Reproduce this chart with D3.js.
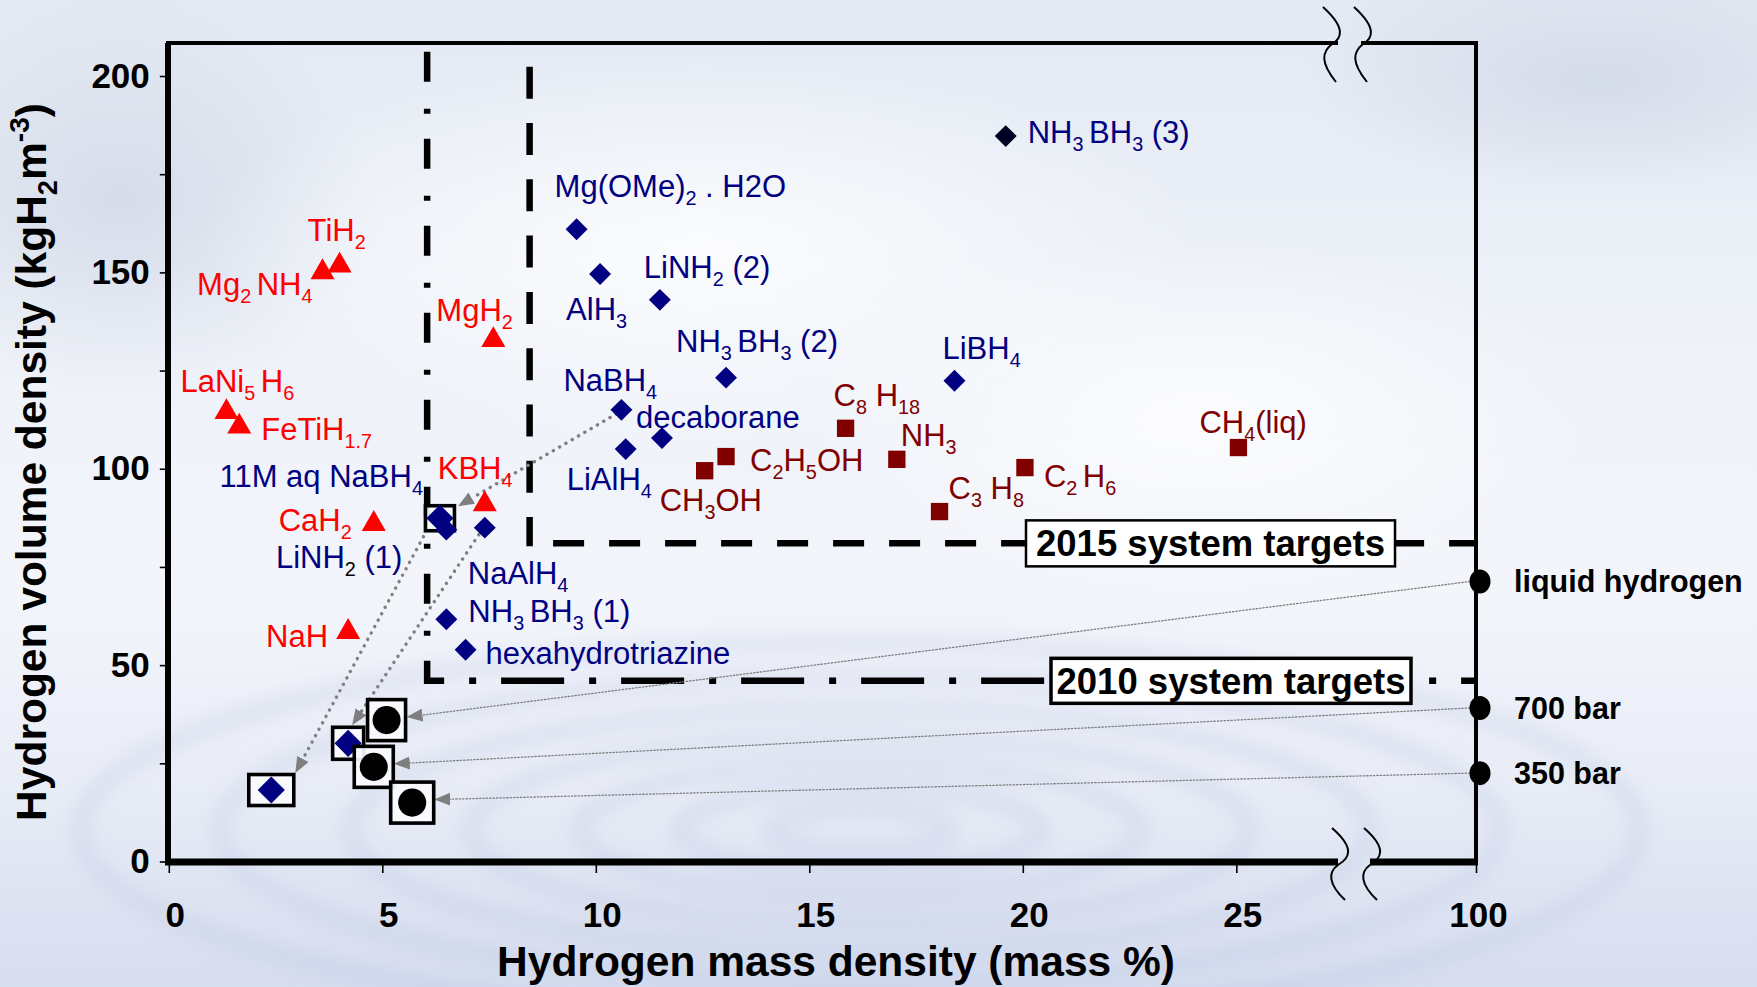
<!DOCTYPE html>
<html>
<head>
<meta charset="utf-8">
<script src="https://cdn.jsdelivr.net/npm/d3@7"></script>
<style>
  body { margin: 0; background: #eef2f9; }
  svg text { font-family: "Liberation Sans", Arial, sans-serif; white-space: pre; }
</style>
</head>
<body>
<svg id="chart" width="1757" height="987"></svg>
<script>
// metal hydrides (red triangles)
var metalNames = ["TiH_{2}", "Mg_{2 }NH_{4}", "MgH_{2}", "LaNi_{5 }H_{6}", "FeTiH_{1.7}", "KBH_{4}", "CaH_{2}", "NaH"];
var metalMass = [4.0, 3.6, 7.6, 1.35, 1.65, 7.4, 4.8, 4.2];
var metalVol = [152.0, 150.3, 133.0, 114.7, 111.0, 91.2, 86.2, 58.7];

// chemical hydrides (blue diamonds)
var chemNames = ["NH_{3 }BH_{3} (3)", "Mg(OMe)_{2} . H2O", "AlH_{3}", "LiNH_{2} (2)", "NH_{3 }BH_{3} (2)",
    "LiBH_{4}", "NaBH_{4}", "decaborane", "LiAlH_{4}", "11M aq NaBH_{4}", "LiNH_<2> (1)",
    "NaAlH_{4}", "NH_{3 }BH_{3} (1)", "hexahydrotriazine"];
var chemMass = [19.6, 9.55, 10.1, 11.5, 13.05, 18.4, 10.6, 11.55, 10.7, 6.35, 6.5, 7.4, 6.5, 6.95];
var chemVol = [184.7, 161.0, 149.6, 143.0, 123.2, 122.4, 115.0, 107.8, 105.0, 87.4, 84.5, 85.0, 61.7, 53.9];

// fuels (maroon squares)
var fuelNames = ["C_{8} H_{18}", "C_{2}H_{5}OH", "CH_{3}OH", "NH_{3}", "C_{3} H_{8}", "C_{2 }H_{6}", "CH_{4}(liq)"];
var fuelMass = [15.85, 13.05, 12.55, 17.05, 18.05, 20.05, 25.05];
var fuelVol = [110.3, 103.1, 99.5, 102.4, 89.1, 100.3, 105.4];

// system level values (boxed marks)
var sysDiamondMass = [2.4, 4.2];
var sysDiamondVol = [18.2, 30.1];
var sysCircleMass = [5.1, 4.8, 5.7];
var sysCircleVol = [36.0, 24.1, 15.0];

// pure hydrogen, 100 mass %
var h2Names = ["liquid hydrogen", "700 bar", "350 bar"];
var h2Mass = 100;
var h2Vol = [71.3, 39.1, 22.5];

// DOE system targets
var targetNames = ["2015 system targets", "2010 system targets"];
var targetMass = [8.45, 6.05];
var targetVol = [81.0, 46.0];

var xTicks = [0, 5, 10, 15, 20, 25, 100];
var yTicks = [0, 25, 50, 75, 100, 125, 150, 175, 200];
var yTickLabels = ["0", "", "50", "", "100", "", "150", "", "200"];

// ---- layout (label offsets in px from the mark, optional anchor) ----
var metalLabelPos = [[-32, -24], [-10, 24, 'end'], [-57, -18], [-46, -19], [22, 14], [-47, -24], [-22, 8, 'end'], [-20, 16, 'end']];
var chemLabelPos = [[22, 7], [-22, -32], [-34, 46], [-16, -22], [-50, -26], [-12, -22], [-58, -19], [-26, -10],
    [-59, 41], [-17, -31, 'end'], [-44, 38, 'end'], [-17, 56], [22, 3], [20, 14]];
var fuelLabelPos = [[-12, -22], [24, 14], [-45, 40], [4, -13], [9, -13], [19, 19], [-39, -15]];

var svg = d3.select('#chart');
var defs = svg.append('defs');

var x = d3.scaleLinear().domain([0, 28, 100]).range([168.8, 1364.4, 1476]);
var y = d3.scaleLinear().domain([0, 200]).range([861.5, 76]);

// ---------- background ----------
var bg = defs.append('linearGradient').attr('id', 'bg').attr('x1', 0).attr('y1', 0).attr('x2', 0).attr('y2', 1);
[[0, '#e3e9f3'], [0.3, '#edf1f8'], [0.6, '#f3f5fb'], [0.8, '#e8ecf6'], [1, '#d6ddef']].forEach(function(s){
    bg.append('stop').attr('offset', s[0]).attr('stop-color', s[1]);
});
defs.append('filter').attr('id', 'blur').attr('x', '-20%').attr('y', '-50%').attr('width', '140%').attr('height', '200%')
    .append('feGaussianBlur').attr('stdDeviation', 9);
var cloud = defs.append('radialGradient').attr('id', 'cloud');
cloud.append('stop').attr('offset', 0).attr('stop-color', '#ffffff').attr('stop-opacity', 0.8);
cloud.append('stop').attr('offset', 1).attr('stop-color', '#ffffff').attr('stop-opacity', 0);
var grey = defs.append('radialGradient').attr('id', 'grey');
grey.append('stop').attr('offset', 0).attr('stop-color', '#cdd5e4').attr('stop-opacity', 0.7);
grey.append('stop').attr('offset', 1).attr('stop-color', '#cdd5e4').attr('stop-opacity', 0);

svg.append('rect').attr('width', 1757).attr('height', 987).attr('fill', 'url(#bg)');
svg.append('ellipse').attr('cx', 120).attr('cy', 200).attr('rx', 260).attr('ry', 200).attr('fill', 'url(#grey)');
svg.append('ellipse').attr('cx', 1600).attr('cy', 80).attr('rx', 300).attr('ry', 120).attr('fill', 'url(#grey)');
svg.append('ellipse').attr('cx', 700).attr('cy', 250).attr('rx', 500).attr('ry', 200).attr('fill', 'url(#cloud)');
svg.append('ellipse').attr('cx', 1200).attr('cy', 420).attr('rx', 400).attr('ry', 180).attr('fill', 'url(#cloud)');

var ripples = svg.append('g').attr('filter', 'url(#blur)');
[90, 180, 280, 390, 510, 640, 780].forEach(function(r){
    ripples.append('ellipse').attr('cx', 860).attr('cy', 830).attr('rx', r).attr('ry', r * 0.24)
        .attr('fill', 'none').attr('stroke', '#a9b5dc').attr('stroke-opacity', 0.22).attr('stroke-width', 18);
});

// ---------- axes ----------
var xAxis = svg.append('g').attr('transform', 'translate(0,862)')
    .call(d3.axisBottom(x).tickValues(xTicks).tickSize(11).tickPadding(29).tickFormat(d3.format('d')));
var yAxis = svg.append('g').attr('transform', 'translate(168.8,0)')
    .call(d3.axisLeft(y).tickValues(yTicks).tickSize(9).tickPadding(10)
        .tickFormat(function(d, i){ return yTickLabels[i]; }));
[xAxis, yAxis].forEach(function(a){
    a.select('.domain').remove();
    a.selectAll('.tick line').attr('stroke', '#000').attr('stroke-width', 1.6);
    a.selectAll('.tick text').attr('fill', '#000').attr('font-size', 35).attr('font-weight', 'bold')
        .attr('font-family', '"Liberation Sans", Arial, sans-serif');
});
xAxis.selectAll('.tick text').attr('dx', function(d){ return d === 100 ? 2 : 6; });

// frame with axis breaks
var frame = svg.append('g').attr('stroke', '#000').attr('fill', 'none');
frame.append('line').attr('x1', 168).attr('x2', 168).attr('y1', 43).attr('y2', 865).attr('stroke-width', 6);
frame.append('line').attr('x1', 165).attr('x2', 1338).attr('y1', 862).attr('y2', 862).attr('stroke-width', 7);
frame.append('line').attr('x1', 1370).attr('x2', 1478).attr('y1', 862).attr('y2', 862).attr('stroke-width', 7);
frame.append('line').attr('x1', 166).attr('x2', 1338).attr('y1', 43).attr('y2', 43).attr('stroke-width', 4);
frame.append('line').attr('x1', 1361).attr('x2', 1478).attr('y1', 43).attr('y2', 43).attr('stroke-width', 4);
frame.append('line').attr('x1', 1476).attr('x2', 1476).attr('y1', 41).attr('y2', 864).attr('stroke-width', 4);
[0, 31].forEach(function(d){
    frame.append('path').attr('stroke-width', 2)
        .attr('d', 'M' + (1323 + d) + ',7 C' + (1346 + d) + ',28 ' + (1342 + d) + ',38 ' + (1332 + d) + ',44 C' + (1322 + d) + ',52 ' + (1320 + d) + ',62 ' + (1336 + d) + ',82');
});
[0, 32].forEach(function(d){
    frame.append('path').attr('stroke-width', 2)
        .attr('d', 'M' + (1332 + d) + ',828 C' + (1355 + d) + ',848 ' + (1350 + d) + ',858 ' + (1338 + d) + ',865 C' + (1328 + d) + ',872 ' + (1328 + d) + ',884 ' + (1345 + d) + ',900');
});

// axis titles
function rich(sel, str, fs){
    var parts = str.split(/(_\{[^}]*\}|_<[^>]*>|\^\{[^}]*\})/).filter(function(p){ return p.length; });
    var shift = 0;
    parts.forEach(function(p){
        var t = sel.append('tspan'), target = 0, txt = p, size = fs;
        if(p.indexOf('_{') === 0 || p.indexOf('_<') === 0){
            target = 0.26 * fs; txt = p.slice(2, -1); size = fs * 0.64;
            if(p.indexOf('_<') === 0) t.attr('fill', '#000');
        } else if(p.indexOf('^{') === 0){
            target = -0.4 * fs; txt = p.slice(2, -1); size = fs * 0.66;
        }
        t.attr('dy', target - shift).attr('font-size', size).text(txt);
        shift = target;
    });
}

var xt = svg.append('text').attr('x', 836).attr('y', 976).attr('text-anchor', 'middle')
    .attr('font-weight', 'bold').attr('font-size', 42.5).attr('fill', '#000');
rich(xt, 'Hydrogen mass density (mass %)', 42.5);
var yt = svg.append('text').attr('transform', 'translate(46,462) rotate(-90)').attr('text-anchor', 'middle')
    .attr('font-weight', 'bold').attr('font-size', 42.5).attr('fill', '#000');
rich(yt, 'Hydrogen volume density (kgH_{2}m^{-3})', 42.5);

// ---------- target lines ----------
var tg = svg.append('g').attr('stroke', '#000').attr('fill', 'none');
tg.append('line').attr('x1', x(targetMass[0])).attr('x2', x(targetMass[0])).attr('y1', 66.7).attr('y2', y(targetVol[0]) + 3)
    .attr('stroke-width', 6.5).attr('stroke-dasharray', '32,24.3');
tg.append('line').attr('x1', x(9.0)).attr('x2', x(h2Mass)).attr('y1', y(targetVol[0])).attr('y2', y(targetVol[0]))
    .attr('stroke-width', 6.5).attr('stroke-dasharray', '31,25');
tg.append('line').attr('x1', x(targetMass[1])).attr('x2', x(targetMass[1])).attr('y1', 51.7).attr('y2', y(targetVol[1]) + 3)
    .attr('stroke-width', 6.5).attr('stroke-dasharray', '30,27,5,25');
tg.append('line').attr('x1', x(targetMass[1]) - 3).attr('x2', x(h2Mass)).attr('y1', y(targetVol[1])).attr('y2', y(targetVol[1]))
    .attr('stroke-width', 6.5).attr('stroke-dasharray', '63,25,7,25').attr('stroke-dashoffset', 43);

var boxX = [[1026, 1395], [1051, 1411]];
var boxH = [46, 45];
var boxStroke = [2.5, 3.5];
targetNames.forEach(function(n, i){
    var cy = y(targetVol[i]);
    svg.append('rect').attr('x', boxX[i][0]).attr('y', cy - boxH[i] / 2).attr('width', boxX[i][1] - boxX[i][0]).attr('height', boxH[i])
        .attr('fill', '#fff').attr('stroke', '#000').attr('stroke-width', boxStroke[i]);
    svg.append('text').attr('x', (boxX[i][0] + boxX[i][1]) / 2).attr('y', cy + 13).attr('text-anchor', 'middle')
        .attr('font-weight', 'bold').attr('font-size', 36.5).attr('fill', '#000').text(n);
});

// ---------- arrows ----------
defs.append('marker').attr('id', 'ah').attr('markerUnits', 'userSpaceOnUse')
    .attr('markerWidth', 18).attr('markerHeight', 14).attr('refX', 0).attr('refY', 6.5).attr('orient', 'auto')
    .append('path').attr('d', 'M0,0 L16,6.5 L0,13 Z').attr('fill', '#7f7f7f');

function pt(kind, i){
    if(kind === 'chem') return [x(chemMass[i]), y(chemVol[i])];
    if(kind === 'sysD') return [x(sysDiamondMass[i]), y(sysDiamondVol[i])];
    if(kind === 'sysC') return [x(sysCircleMass[i]), y(sysCircleVol[i])];
    return [x(h2Mass) + 4, y(h2Vol[i])];
}
var arrows = [
    {s: ['chem', 6], t: ['chem', 9], so: [-5, 4], to: [18, -12], w: 3.4, dash: '0.1,7.2'},
    {s: ['chem', 9], t: ['sysD', 0], so: [-13, 12], to: [24, -17], w: 3.4, dash: '0.1,7.2'},
    {s: ['chem', 11], t: ['sysD', 1], so: [-6, 7], to: [4, -18], w: 3.4, dash: '0.1,7.2'},
    {s: ['h2', 0], t: ['sysC', 0], so: [-10, 0], to: [20, -3], w: 1.3, dash: '1.4,2'},
    {s: ['h2', 1], t: ['sysC', 1], so: [-10, 0], to: [20, -3], w: 1.3, dash: '1.4,2'},
    {s: ['h2', 2], t: ['sysC', 2], so: [-10, 0], to: [22, -3], w: 1.3, dash: '1.4,2'}
];
arrows.forEach(function(a){
    var p0 = pt(a.s[0], a.s[1]), p1 = pt(a.t[0], a.t[1]);
    var x0 = p0[0] + a.so[0], y0 = p0[1] + a.so[1], x1 = p1[0] + a.to[0], y1 = p1[1] + a.to[1];
    var len = Math.hypot(x1 - x0, y1 - y0), ux = (x1 - x0) / len, uy = (y1 - y0) / len;
    svg.append('line').attr('x1', x0).attr('y1', y0).attr('x2', x1 - ux * 16).attr('y2', y1 - uy * 16)
        .attr('stroke', '#7f7f7f').attr('stroke-width', a.w).attr('stroke-linecap', 'round')
        .attr('stroke-dasharray', a.dash).attr('marker-end', 'url(#ah)');
});

// ---------- system boxes ----------
var boxes = [
    {p: ['chem', 9], w: 29, h: 25},
    {p: ['sysD', 0], w: 45, h: 31},
    {p: ['sysD', 1], w: 31, h: 32},
    {p: ['sysC', 0], w: 38, h: 41},
    {p: ['sysC', 1], w: 39, h: 41},
    {p: ['sysC', 2], w: 43, h: 41}
];
var boxG = svg.append('g');

function drawBox(b){
    var c = pt(b.p[0], b.p[1]);
    boxG.append('rect').attr('x', c[0] - b.w / 2).attr('y', c[1] - b.h / 2).attr('width', b.w).attr('height', b.h)
        .attr('fill', '#fafbfe').attr('fill-opacity', 0.92).attr('stroke', '#000').attr('stroke-width', 3.6);
}

// ---------- marks ----------
var marks = svg.append('g');
var tri = d3.symbol().type(d3.symbolTriangle).size(250);
var dia = d3.symbol().type(d3.symbolSquare).size(240);
var diaBig = d3.symbol().type(d3.symbolSquare).size(370);
var sq = d3.symbol().type(d3.symbolSquare).size(300);
var circ = d3.symbol().type(d3.symbolCircle).size(620);

drawBox(boxes[0]);
marks.selectAll('.metal').data(metalMass).enter().append('path')
    .attr('d', tri).attr('fill', '#ff0000')
    .attr('transform', function(d, i){ return 'translate(' + x(d) + ',' + (y(metalVol[i]) + 1) + ')'; });
marks.selectAll('.chem').data(chemMass).enter().append('path')
    .attr('d', function(d, i){ return i === 9 ? diaBig() : dia(); })
    .attr('fill', function(d, i){ return i === 0 ? '#000022' : '#000080'; })
    .attr('transform', function(d, i){ return 'translate(' + x(d) + ',' + y(chemVol[i]) + ') rotate(45)'; });
marks.selectAll('.fuel').data(fuelMass).enter().append('path')
    .attr('d', sq).attr('fill', '#800000')
    .attr('transform', function(d, i){ return 'translate(' + x(d) + ',' + y(fuelVol[i]) + ')'; });

[1, 2].forEach(function(k){
    drawBox(boxes[k]);
});
sysDiamondMass.forEach(function(d, i){
    boxG.append('path').attr('d', diaBig).attr('fill', '#000080')
        .attr('transform', 'translate(' + x(d) + ',' + y(sysDiamondVol[i]) + ') rotate(45)');
});
sysCircleMass.forEach(function(d, i){
    drawBox(boxes[3 + i]);
    boxG.append('path').attr('d', circ).attr('fill', '#000')
        .attr('transform', 'translate(' + x(d) + ',' + y(sysCircleVol[i]) + ')');
});
marks.raise();

// pure hydrogen points on the right axis
h2Vol.forEach(function(v, i){
    svg.append('ellipse').attr('cx', x(h2Mass) + 4).attr('cy', y(v)).attr('rx', 10.5).attr('ry', 12).attr('fill', '#000');
    svg.append('text').attr('x', 1514).attr('y', y(v) + 11).attr('font-weight', 'bold').attr('font-size', 30.5)
        .attr('fill', '#000').text(h2Names[i]);
});

// ---------- labels ----------
function drawLabels(names, mass, vol, pos, color){
    names.forEach(function(n, i){
        var o = pos[i];
        var t = svg.append('text').attr('x', x(mass[i]) + o[0]).attr('y', y(vol[i]) + o[1])
            .attr('text-anchor', o[2] || 'start').attr('fill', color).attr('font-size', 31);
        rich(t, n, 31);
    });
}
drawLabels(metalNames, metalMass, metalVol, metalLabelPos, '#ff0000');
drawLabels(chemNames, chemMass, chemVol, chemLabelPos, '#000080');
drawLabels(fuelNames, fuelMass, fuelVol, fuelLabelPos, '#800000');
</script>
</body>
</html>
